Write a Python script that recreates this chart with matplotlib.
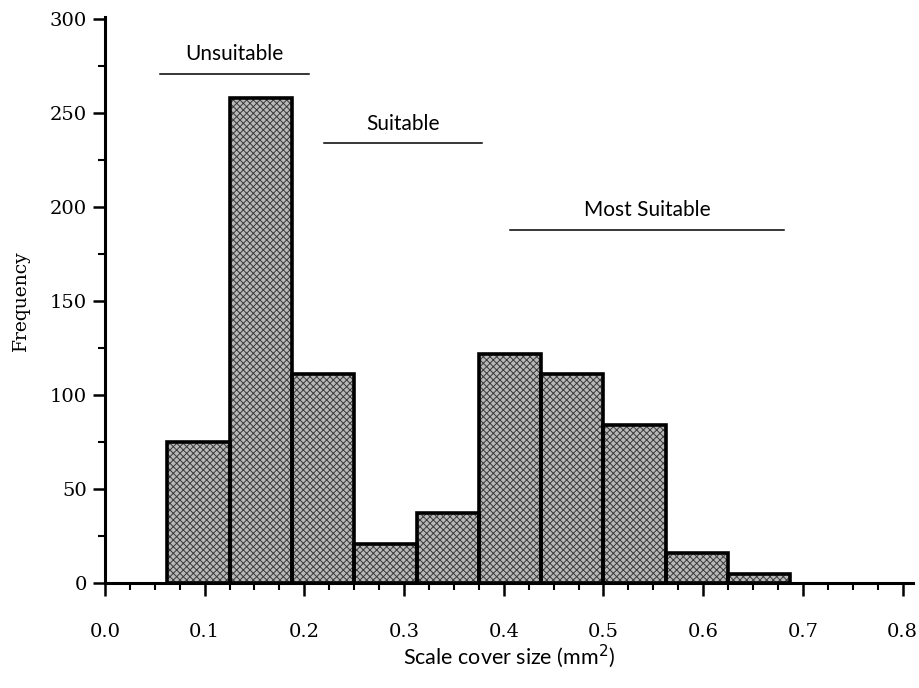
import numpy as np
import matplotlib
matplotlib.use("Agg")
import matplotlib.pyplot as plt
from matplotlib.ticker import MultipleLocator

# histogram of scale cover size, bin width 0.0625 mm2
bin_left = [0.0625, 0.125, 0.1875, 0.25, 0.3125, 0.375, 0.4375, 0.5, 0.5625, 0.625]
bin_width = 0.0625
freq = [75, 258, 111, 21, 37, 122, 111, 84, 16, 5]

# suitability ranges drawn above the bars
range_names = ["Unsuitable", "Suitable", "Most Suitable"]
range_start = [0.055, 0.22, 0.406]
range_end = [0.205, 0.378, 0.681]
range_level = [271, 234, 188]

plt.rcParams['hatch.linewidth'] = 0.7

fig = plt.figure(figsize=(9.2, 6.88), dpi=100)
ax = fig.add_axes([0.114, 0.1526, 0.878, 0.822])

# halftone-like fill, then a heavy black outline
ax.bar(bin_left, freq, width=bin_width, align='edge', color='#b8b8b8',
       hatch='xxxxx', edgecolor='#3a3a3a', linewidth=0, zorder=2)
ax.bar(bin_left, freq, width=bin_width, align='edge', fill=False,
       edgecolor='black', linewidth=2.6, zorder=3)

for name, x0, x1, lev in zip(range_names, range_start, range_end, range_level):
    ax.plot([x0, x1], [lev, lev], color='black', lw=1.1, zorder=4)
    ax.text((x0 + x1) / 2, lev + 5, name, ha='center', va='bottom',
            fontsize=15, family='Lato', zorder=4)

ax.set_xlim(0, 0.81)
ax.set_ylim(0, 301)
ax.xaxis.set_major_locator(MultipleLocator(0.1))
ax.xaxis.set_minor_locator(MultipleLocator(0.025))
ax.yaxis.set_major_locator(MultipleLocator(50))
ax.yaxis.set_minor_locator(MultipleLocator(25))
ax.xaxis.set_major_formatter(matplotlib.ticker.FormatStrFormatter('%.1f'))

for s in ['top', 'right']:
    ax.spines[s].set_visible(False)
for s in ['left', 'bottom']:
    ax.spines[s].set_linewidth(2.2)

ax.tick_params(which='major', length=9, width=1.8, labelsize=14, pad=20)
ax.tick_params(which='minor', length=5, width=1.5)
ax.tick_params(axis='y', which='major', pad=4)
for lab in ax.get_xticklabels() + ax.get_yticklabels():
    lab.set_family('DejaVu Serif')

ax.set_ylabel("Frequency", family='DejaVu Serif', fontsize=13.5, labelpad=14)
ax.set_xlabel("Scale cover size (mm$^{2}$)", family='Lato', fontsize=15.5, labelpad=1)

fig.savefig("out.png", dpi=100)
